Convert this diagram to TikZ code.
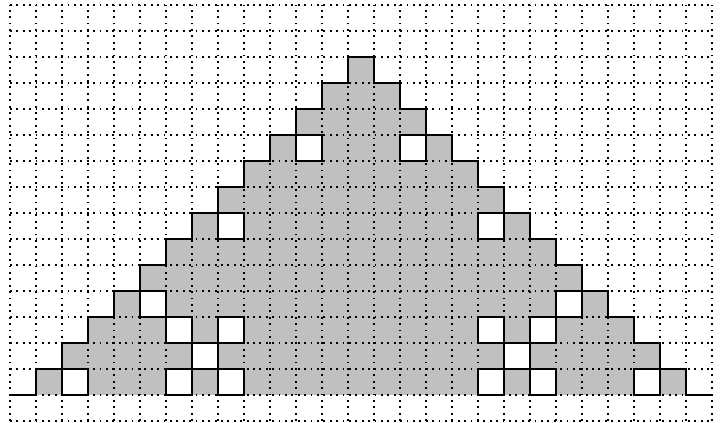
\documentclass[tikz,border=0pt]{standalone}
\definecolor{cellgray}{RGB}{192,192,192}
\tikzset{
  gridline/.style={line width=2pt, dash pattern=on 2pt off 5pt, black},
  outline/.style={line width=2.2pt, black, line join=miter, line cap=rect},
  holecell/.style={fill=white, draw=black, line width=2.2pt},
  tri/.style={fill=cellgray}
}
\begin{document}
\begin{tikzpicture}[x=1cm,y=1cm]
\useasboundingbox (-0.385,-1.05) rectangle (27.385,15.19);
% gray triangle
\fill[tri] (1,0) \foreach \i in {1,...,13} { -- (\i,\i) -- ({\i+1},\i) }
  \foreach \i in {12,...,1} { -- ({26-\i},\i) -- ({27-\i},\i) } -- (26,0) -- cycle;
% dotted grid
\draw[gridline] (0,-1) grid (27,15);
% white cells
\foreach \c/\r in {11/9,15/9,8/6,18/6,5/3,21/3,6/2,8/2,18/2,20/2,7/1,19/1,2/0,6/0,8/0,18/0,20/0,24/0}
  \draw[holecell] (\c,\r) rectangle ++(1,1);
% outline
\draw[outline] (0,0) -- (1,0) \foreach \i in {1,...,13} { -- (\i,\i) -- ({\i+1},\i) }
  \foreach \i in {12,...,1} { -- ({26-\i},\i) -- ({27-\i},\i) } -- (26,0) -- (27,0);
\end{tikzpicture}
\end{document}
